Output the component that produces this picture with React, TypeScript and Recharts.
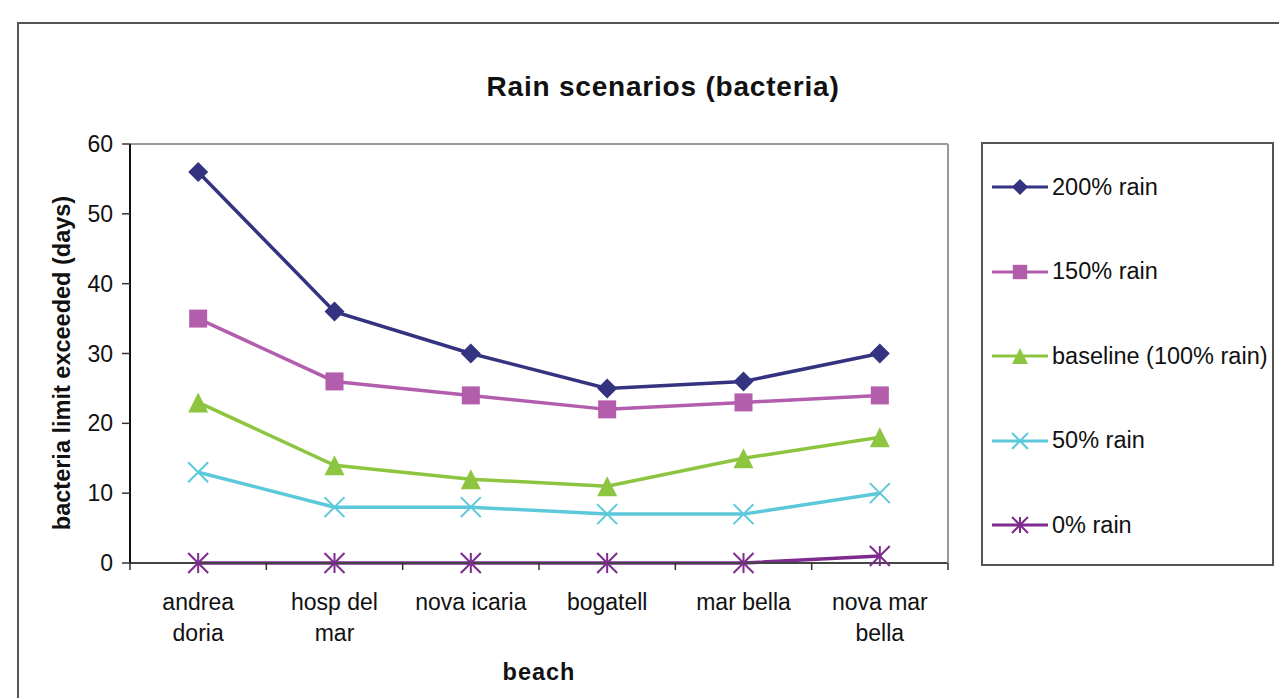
import React from 'react';
import { LineChart, Line, XAxis, YAxis, Legend } from 'recharts';

const categories = ['andrea doria', 'hosp del mar', 'nova icaria', 'bogatell', 'mar bella', 'nova mar bella'];
const categoryLines: Record<string, string[]> = {
  'andrea doria': ['andrea', 'doria'],
  'hosp del mar': ['hosp del', 'mar'],
  'nova icaria': ['nova icaria'],
  'bogatell': ['bogatell'],
  'mar bella': ['mar bella'],
  'nova mar bella': ['nova mar', 'bella'],
};
const rain200 = [56, 36, 30, 25, 26, 30];
const rain150 = [35, 26, 24, 22, 23, 24];
const rain100 = [23, 14, 12, 11, 15, 18];
const rain50 = [13, 8, 8, 7, 7, 10];
const rain0 = [0, 0, 0, 0, 0, 1];
const yTicks = [0, 10, 20, 30, 40, 50, 60];

const title = 'Rain scenarios (bacteria)';
const xLabel = 'beach';
const yLabel = 'bacteria limit exceeded (days)';

const series = [
  { key: 'r200', name: '200% rain', color: '#333380', marker: 'diamond', values: rain200 },
  { key: 'r150', name: '150% rain', color: '#B35DAD', marker: 'square', values: rain150 },
  { key: 'r100', name: 'baseline (100% rain)', color: '#8DC540', marker: 'triangle', values: rain100 },
  { key: 'r50', name: '50% rain', color: '#5CC9DB', marker: 'x', values: rain50 },
  { key: 'r0', name: '0% rain', color: '#7D2B8F', marker: 'star', values: rain0 },
];

const data = categories.map((c, i) => {
  const row: any = { beach: c };
  series.forEach((s) => { row[s.key] = s.values[i]; });
  return row;
});

const FONT = '"Liberation Sans", Arial, Helvetica, sans-serif';
const W = 1279;
const H = 698;
const M = { top: 143, right: 330, bottom: 35, left: 70 };
const Y_AXIS_W = 60;
const X_AXIS_H = 100;
const PLOT_W = W - M.left - Y_AXIS_W - M.right - 1;
const STEP = PLOT_W / categories.length;

function Marker({ type, cx, cy, color, s }: { type: string; cx: number; cy: number; color: string; s: number }) {
  if (type === 'diamond') {
    return <polygon points={`${cx},${cy - s} ${cx + s},${cy} ${cx},${cy + s} ${cx - s},${cy}`} fill={color} />;
  }
  if (type === 'square') {
    const h = s * 0.9;
    return <rect x={cx - h} y={cy - h} width={2 * h} height={2 * h} fill={color} />;
  }
  if (type === 'triangle') {
    return <polygon points={`${cx},${cy - s} ${cx + s},${cy + s} ${cx - s},${cy + s}`} fill={color} />;
  }
  if (type === 'x') {
    return (
      <g stroke={color} strokeWidth={2}>
        <line x1={cx - s} y1={cy - s} x2={cx + s} y2={cy + s} />
        <line x1={cx - s} y1={cy + s} x2={cx + s} y2={cy - s} />
      </g>
    );
  }
  return (
    <g stroke={color} strokeWidth={2}>
      <line x1={cx - s} y1={cy - s} x2={cx + s} y2={cy + s} />
      <line x1={cx - s} y1={cy + s} x2={cx + s} y2={cy - s} />
      <line x1={cx} y1={cy - s} x2={cx} y2={cy + s} />
    </g>
  );
}

function XTick(props: any) {
  const { x, y, payload, index } = props;
  const lines = categoryLines[payload.value] || [payload.value];
  const last = index === categories.length - 1;
  return (
    <g>
      <line x1={x - STEP / 2} y1={y} x2={x - STEP / 2} y2={y + 7} stroke="#333" strokeWidth={1.5} />
      {last && <line x1={x + STEP / 2} y1={y} x2={x + STEP / 2} y2={y + 7} stroke="#333" strokeWidth={1.5} />}
      {lines.map((l: string, i: number) => (
        <text key={i} x={x} y={y + 47 + i * 31} textAnchor="middle" fontSize={23} fill="#111" fontFamily={FONT}>
          {l}
        </text>
      ))}
    </g>
  );
}

function YTick(props: any) {
  const { x, y, payload } = props;
  return (
    <text x={x + 1} y={y + 8} textAnchor="end" fontSize={23} fill="#111" fontFamily={FONT}>
      {payload.value}
    </text>
  );
}

function LegendBox() {
  return (
    <div style={{ position: 'relative', width: 293, height: 424, border: '2px solid #555', boxSizing: 'border-box', background: '#fff' }}>
      {series.map((s, i) => (
        <div key={s.key} style={{ position: 'absolute', left: 9, top: 43 + i * 84.5 - 14, height: 28, display: 'flex', alignItems: 'center' }}>
          <svg width={60} height={28}>
            <line x1={0} y1={14} x2={56} y2={14} stroke={s.color} strokeWidth={3} />
            <Marker type={s.marker} cx={28} cy={14} color={s.color} s={8} />
          </svg>
          <span style={{ fontFamily: FONT, fontSize: 23.5, color: '#111', whiteSpace: 'nowrap' }}>{s.name}</span>
        </div>
      ))}
    </div>
  );
}

export default function App() {
  return (
    <div style={{ position: 'absolute', left: 0, top: 0, width: W, height: H, overflow: 'hidden', background: '#fff' }}>
      <div style={{ position: 'absolute', left: 17, top: 22, width: 1400, height: 800, border: '2px solid #555', boxSizing: 'border-box' }} />
      <div style={{ position: 'absolute', left: 0, top: 0 }}>
        <LineChart width={W} height={H} data={data} margin={M}>
          <XAxis
            dataKey="beach"
            height={X_AXIS_H}
            tickSize={0}
            tickMargin={0}
            tick={<XTick />}
            interval={0}
            padding={{ left: STEP / 2, right: STEP / 2 }}
            axisLine={{ stroke: '#444', strokeWidth: 2 }}
          />
          <XAxis
            xAxisId="top"
            dataKey="beach"
            orientation="top"
            height={1}
            tick={false}
            tickLine={false}
            axisLine={{ stroke: '#999', strokeWidth: 2 }}
          />
          <YAxis
            domain={[0, 60]}
            ticks={yTicks}
            width={Y_AXIS_W}
            tickSize={8}
            tickMargin={10}
            interval={0}
            tick={<YTick />}
            tickLine={{ stroke: '#333', strokeWidth: 1.5 }}
            axisLine={{ stroke: '#111', strokeWidth: 2 }}
          />
          <YAxis
            yAxisId="right"
            orientation="right"
            domain={[0, 60]}
            width={1}
            tick={false}
            tickLine={false}
            axisLine={{ stroke: '#999', strokeWidth: 2 }}
          />
          <Legend
            layout="vertical"
            align="center"
            verticalAlign="middle"
            wrapperStyle={{ left: 981, top: 142, width: 293, height: 424 }}
            content={() => <LegendBox />}
          />
          {series.map((s) => (
            <Line
              key={s.key}
              dataKey={s.key}
              name={s.name}
              stroke={s.color}
              strokeWidth={3.5}
              isAnimationActive={false}
              dot={(p: any) => <Marker key={`${s.key}-${p.index}`} type={s.marker} cx={p.cx} cy={p.cy} color={s.color} s={10} />}
              activeDot={false}
            />
          ))}
        </LineChart>
      </div>
      <div style={{ position: 'absolute', left: 0, top: 71, width: 1326, textAlign: 'center', fontFamily: FONT, fontWeight: 'bold', fontSize: 28, letterSpacing: 0.8, color: '#111' }}>
        {title}
      </div>
      <div style={{ position: 'absolute', left: 0, top: 659, width: 1078, textAlign: 'center', fontFamily: FONT, fontWeight: 'bold', fontSize: 23.5, letterSpacing: 1, color: '#111' }}>
        {xLabel}
      </div>
      <div
        style={{
          position: 'absolute',
          left: 62,
          top: 363,
          transform: 'translate(-50%, -50%) rotate(-90deg)',
          fontFamily: FONT,
          fontWeight: 'bold',
          fontSize: 23.5,
          color: '#111',
          whiteSpace: 'nowrap',
        }}
      >
        {yLabel}
      </div>
    </div>
  );
}
